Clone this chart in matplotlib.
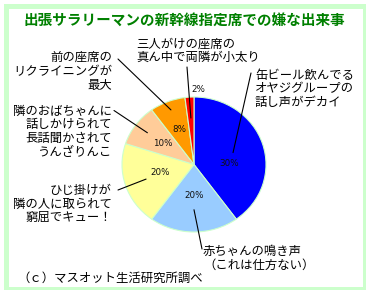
import matplotlib
matplotlib.use("Agg")
import matplotlib.pyplot as plt
from matplotlib.patches import Rectangle
import numpy as np

plt.rcParams['font.family'] = ['Noto Sans CJK JP', 'DejaVu Sans']

# ---------------- data ----------------
title = "出張サラリーマンの新幹線指定席での嫌な出来事"
categories = [
    "缶ビール飲んでる\nオヤジグループの\n話し声がデカイ",
    "赤ちゃんの鳴き声\n（これは仕方ない）",
    "ひじ掛けが\n隣の人に取られて\n窮屈でキュー！",
    "隣のおばちゃんに\n話しかけられて\n長話聞かされて\nうんざりんこ",
    "前の座席の\nリクライニングが\n最大",
    "三人がけの座席の\n真ん中で両隣が小太り",
]
shares = [40, 20, 20, 10, 8, 2]           # wedge shares as drawn
pct_labels = ["30%", "20%", "20%", "10%", "8%", "2%"]  # printed labels
source = "（ｃ）マスオット生活研究所調べ"

# ---------------- style / layout ----------------
colors = ["#0000ff", "#99ccff", "#ffff99", "#ffcc99", "#ff9900", "#ff0000"]
W, H = 370, 293
fig = plt.figure(figsize=(W / 100, H / 100), dpi=100)
fig.patch.set_facecolor("white")


def fx(x):
    return x / W


def fy(y):
    return 1 - y / H


# border frame
frame_col = "#ccffcc"
for (x0, y0, x1, y1) in [(4, 4, 366, 9), (4, 4, 9, 290), (363, 4, 366, 290), (4, 287, 366, 290)]:
    fig.patches.append(Rectangle((fx(x0), fy(y1)), (x1 - x0) / W, (y1 - y0) / H,
                                 transform=fig.transFigure, facecolor=frame_col,
                                 edgecolor="none", zorder=0))

# pie
cx, cy, rx, ry = 194, 164.5, 72, 67.5
ax = fig.add_axes([fx(cx - rx), fy(cy + ry), 2 * rx / W, 2 * ry / H])
wedges, _ = ax.pie(shares, colors=colors, startangle=90, counterclock=False,
                   wedgeprops=dict(edgecolor="#ccffcc", linewidth=0.8))
for w in wedges:
    w.set_clip_on(False)
ax.set_xlim(-1, 1)
ax.set_ylim(-1, 1)
ax.set_aspect("auto")
ax.axis("off")

# title
fig.text(fx(184), fy(20), title, ha="center", va="center", color="#008000",
         fontsize=10.5, weight="bold")

# category labels: (x, first-line y, line step, alignment)
label_layout = [
    (255, 75.5, 13.5, "left"),
    (203, 251.7, 13.4, "left"),
    (112, 190.8, 13.4, "right"),
    (112, 111, 13.8, "right"),
    (112, 57, 14.5, "right"),
    (136, 44, 13.5, "left"),
]
leader_start = [(251, 73), (202, 249), (118, 190), (114, 110.5), (118, 59), (187, 67)]
leader_r = [0.57, 0.67, 0.70, 0.80, 0.87, 0.69]
pct_pos = [(229, 164), (194, 196), (160, 172.5), (163, 144), (179, 129), (198, 89)]

for i, w in enumerate(wedges):
    x, y0, dy, ha = label_layout[i]
    for k, line in enumerate(categories[i].split("\n")):
        fig.text(fx(x), fy(y0 + k * dy), line, ha=ha, va="center",
                 fontsize=8.9, color="black")
    th = np.deg2rad((w.theta1 + w.theta2) / 2)
    r = leader_r[i]
    sx, sy = leader_start[i]
    ax.annotate("", xy=(r * np.cos(th), r * np.sin(th)), xycoords="data",
                xytext=(fx(sx), fy(sy)), textcoords="figure fraction",
                arrowprops=dict(arrowstyle="-", lw=0.8, color="black",
                                shrinkA=0, shrinkB=0),
                annotation_clip=False)
    px, py = pct_pos[i]
    fig.text(fx(px), fy(py), pct_labels[i], ha="center", va="center",
             fontsize=6.3, color="#111111", family="DejaVu Sans")

fig.text(fx(17), fy(278), source, ha="left", va="center", fontsize=8.9, color="black")

fig.savefig("out.png", dpi=100)
